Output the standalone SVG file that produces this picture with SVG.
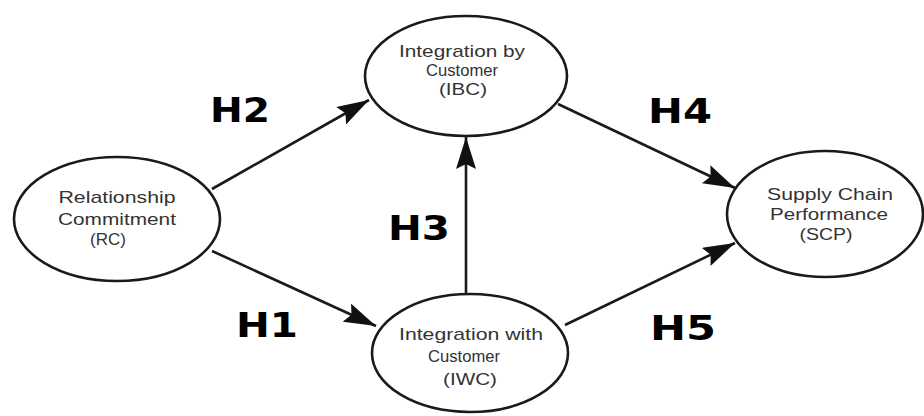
<svg xmlns="http://www.w3.org/2000/svg" width="924" height="416" viewBox="0 0 924 416">
<defs>
<style>
.node ellipse{fill:#fff;stroke:#1a1a1a;stroke-width:2.6}
.node text{font-family:"Liberation Sans",Arial,sans-serif;font-size:17px;fill:#333;text-anchor:middle}
.edge{stroke:#1a1a1a;stroke-width:2.6;fill:none;marker-end:url(#ah)}
.h{font-family:"DejaVu Sans","Liberation Sans",sans-serif;font-weight:bold;font-size:34px;fill:#000}
</style>
<marker id="ah" markerUnits="userSpaceOnUse" markerWidth="34" markerHeight="20" refX="32" refY="10" orient="auto">
<path d="M0,0 L32,10 L0,20 L5,10 z" fill="#111"/>
</marker>
</defs>
<rect width="924" height="416" fill="#fff"/>
<g id="connectors">
<line class="edge" x1="212" y1="189" x2="369" y2="100"/>
<line class="edge" x1="212" y1="251" x2="376" y2="326"/>
<line class="edge" x1="466" y1="293" x2="466" y2="137"/>
<line class="edge" x1="558" y1="104" x2="735" y2="188"/>
<line class="edge" x1="565" y1="325" x2="735" y2="243"/>
</g>
<g id="RC" class="node">
<ellipse cx="117" cy="219" rx="103" ry="62"/>
<text x="117" y="203" textLength="117" lengthAdjust="spacingAndGlyphs">Relationship</text>
<text x="117" y="225" textLength="118" lengthAdjust="spacingAndGlyphs">Commitment</text>
<text x="108" y="245" textLength="36" lengthAdjust="spacingAndGlyphs">(RC)</text>
</g>
<g id="IBC" class="node">
<ellipse cx="466" cy="76" rx="101" ry="60"/>
<text x="462" y="57" textLength="126" lengthAdjust="spacingAndGlyphs">Integration by</text>
<text x="462" y="76" textLength="72" lengthAdjust="spacingAndGlyphs">Customer</text>
<text x="463" y="95" textLength="48" lengthAdjust="spacingAndGlyphs">(IBC)</text>
</g>
<g id="IWC" class="node">
<ellipse cx="470" cy="353" rx="98" ry="59"/>
<text x="471" y="340" textLength="144" lengthAdjust="spacingAndGlyphs">Integration with</text>
<text x="464" y="362" textLength="72" lengthAdjust="spacingAndGlyphs">Customer</text>
<text x="470" y="385" textLength="54" lengthAdjust="spacingAndGlyphs">(IWC)</text>
</g>
<g id="SCP" class="node">
<ellipse cx="825" cy="214" rx="98" ry="63"/>
<text x="830" y="200" textLength="126" lengthAdjust="spacingAndGlyphs">Supply Chain</text>
<text x="829" y="220" textLength="118" lengthAdjust="spacingAndGlyphs">Performance</text>
<text x="826" y="240" textLength="53" lengthAdjust="spacingAndGlyphs">(SCP)</text>
</g>
<g id="labels">
<text class="h" x="210" y="122" textLength="60" lengthAdjust="spacingAndGlyphs">H2</text>
<text class="h" x="648" y="123" textLength="64" lengthAdjust="spacingAndGlyphs">H4</text>
<text class="h" x="388" y="240" textLength="62" lengthAdjust="spacingAndGlyphs">H3</text>
<text class="h" x="236" y="337" textLength="62" lengthAdjust="spacingAndGlyphs">H1</text>
<text class="h" x="650" y="340" textLength="66" lengthAdjust="spacingAndGlyphs">H5</text>
</g>
</svg>
